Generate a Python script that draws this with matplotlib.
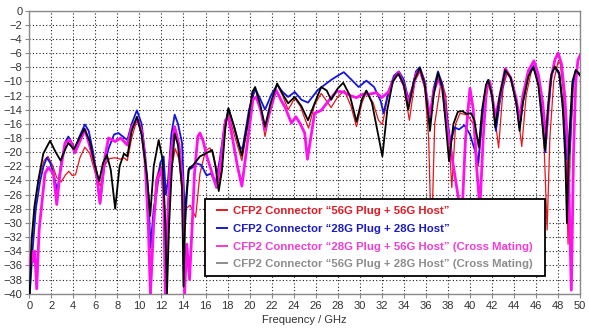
import matplotlib
matplotlib.use("Agg")
import matplotlib.pyplot as plt
from matplotlib.lines import Line2D
from matplotlib import font_manager

# ---- measured return-loss traces (frequency GHz, dB) ----
red_pts = [(0.05, -39), (0.2, -33), (0.4, -29.5), (0.65, -26), (1.0, -23), (1.35, -21.2), (1.7, -20.6),
           (2.1, -21.8), (2.5, -23.6), (2.9, -24.2), (3.3, -23.2), (3.6, -22.7), (3.9, -23.3), (4.2, -23.2),
           (4.6, -20.8), (5.05, -19.3), (5.5, -20.2), (6.0, -23.0), (6.45, -24.8), (6.9, -21.7), (7.3, -20.9),
           (7.8, -20.8), (8.3, -21.0), (8.6, -20.8), (8.9, -21.2), (9.3, -18.0), (9.8, -15.3), (10.2, -17.5),
           (10.5, -21.2), (10.83, -27.7), (11.05, -40), (11.25, -30), (11.5, -24), (11.9, -21.6), (12.2, -24),
           (12.4, -34), (12.6, -28), (12.95, -22), (13.25, -19.5), (13.6, -21), (13.87, -25.5), (14.2, -28),
           (14.6, -27.5), (15.1, -29.2), (15.5, -23), (16.0, -19.8), (16.4, -19.4), (16.75, -20.5), (17.0, -22.5),
           (17.3, -24), (17.6, -19.5), (17.9, -15.5), (18.1, -14.7), (18.6, -17.5), (19.3, -21.2), (19.9, -15.5),
           (20.5, -10.9), (21.0, -14), (21.4, -17.8), (22.0, -13), (22.5, -10.4), (23.0, -12.0), (23.5, -14.0),
           (24.1, -12.4), (24.6, -13.5), (25.0, -15.2), (25.35, -16.6), (25.9, -13.3), (26.5, -11.7), (27.0, -12.8),
           (27.4, -13.7), (28.0, -12.2), (28.6, -11.3), (29.2, -13.5), (29.7, -16.4), (30.2, -13.0), (30.6, -11.5),
           (31.2, -13.0), (31.7, -15.5), (32.05, -16.1), (32.5, -12.5), (33.0, -9.8), (33.5, -8.9), (34.0, -10.8),
           (34.5, -15.5), (35.0, -10), (35.45, -8.6), (35.9, -11), (36.25, -18), (36.5, -33), (36.8, -16),
           (37.4, -9.8), (37.8, -12), (38.1, -18), (38.35, -25), (38.7, -16), (39.1, -14.5), (39.8, -14.8),
           (40.3, -16), (40.75, -22), (41.2, -14.5), (41.7, -10.3), (42.1, -13), (42.6, -19.4), (43.0, -11),
           (43.4, -8.6), (43.8, -10), (44.3, -14), (44.7, -19.2), (45.1, -12), (45.6, -8.3), (45.9, -8.5),
           (46.4, -12), (46.75, -20), (47.0, -31), (47.25, -18), (47.6, -10), (48.0, -7.2), (48.2, -7.5),
           (48.5, -12), (48.75, -22), (48.9, -33), (49.1, -20), (49.4, -10), (49.7, -8.5), (50.0, -9.0)]

blue_pts = [(0.05, -40), (0.3, -34), (0.6, -28), (1.0, -24), (1.3, -22), (1.6, -20.8), (1.9, -21.5), (2.2, -23),
            (2.55, -25.5), (2.9, -21.5), (3.3, -18.5), (3.55, -17.8), (3.9, -18.8), (4.15, -19.6), (4.5, -18.0),
            (5.05, -16.1), (5.4, -17.0), (5.8, -20.0), (6.1, -23.0), (6.43, -27.3), (6.8, -22), (7.2, -19.5),
            (7.7, -17.5), (8.1, -17.3), (8.5, -17.8), (8.9, -18.3), (9.3, -16), (9.77, -14.1), (10.2, -16),
            (10.5, -20), (10.83, -26.3), (11.0, -33.5), (11.3, -28), (11.6, -25.3), (11.9, -21.5), (12.2, -20.6),
            (12.4, -26), (12.6, -24), (12.9, -17.5), (13.2, -14.7), (13.5, -16), (13.87, -18.7), (14.15, -30),
            (14.45, -22.5), (14.8, -22.2), (15.2, -21.6), (15.6, -21.8), (16.1, -23.3), (16.5, -23.0),
            (16.9, -24.5), (17.3, -21), (17.7, -16.5), (18.1, -13.9), (18.6, -16.5), (19.1, -19.2), (19.35, -19.6),
            (19.95, -14.0), (20.5, -11.0), (21.0, -12.6), (21.4, -14.0), (22.0, -11.8), (22.5, -10.5),
            (23.0, -11.5), (23.5, -12.2), (24.1, -11.5), (24.7, -12.6), (25.3, -13.0), (25.8, -12.0),
            (26.2, -11.2), (26.8, -10.5), (27.4, -9.8), (28.0, -9.2), (28.55, -8.7), (29.2, -9.7), (29.9, -10.8),
            (30.6, -9.9), (31.3, -10.8), (31.9, -12.8), (32.15, -14.5), (32.6, -11.5), (33.1, -9.2), (33.55, -8.6),
            (34.0, -9.8), (34.4, -12.5), (34.75, -11), (35.1, -8.6), (35.45, -8.0), (35.9, -10), (36.35, -16),
            (36.7, -11), (37.1, -8.6), (37.5, -10.5), (38.0, -16), (38.25, -18.7), (38.6, -16.5), (39.0, -16.8),
            (39.5, -16.2), (40.0, -17.5), (40.4, -19.5), (40.75, -21.5), (41.1, -15), (41.45, -11), (41.7, -9.8),
            (42.0, -11.5), (42.35, -17), (42.7, -13), (43.25, -8.4), (43.7, -9.5), (44.2, -13), (44.5, -16.5),
            (44.8, -13), (45.3, -9), (45.75, -7.8), (46.2, -10), (46.6, -15), (46.85, -20), (47.1, -14),
            (47.4, -9), (47.7, -8.0), (48.1, -9), (48.5, -15), (48.8, -21), (49.05, -20), (49.3, -11),
            (49.6, -8.5), (50.0, -9.0)]

magenta_pts = [(0.05, -36), (0.22, -34), (0.37, -35.5), (0.5, -34), (0.68, -39.3), (0.9, -31), (1.13, -27.5),
               (1.43, -23), (1.73, -22.2), (2.19, -23), (2.5, -27.4), (2.8, -23), (3.25, -18.7), (3.7, -18.3),
               (4.15, -20.1), (4.45, -19), (5.06, -16.8), (5.67, -20.1), (6.1, -23), (6.42, -27.2), (6.88, -20.6),
               (7.2, -18), (7.8, -18.5), (8.3, -18), (8.9, -19), (9.3, -16.5), (9.8, -15.3), (10.2, -17),
               (10.5, -21), (10.8, -30), (11.0, -40), (11.3, -30), (11.6, -24), (12.0, -22.5), (12.2, -26),
               (12.35, -40), (12.55, -30), (12.8, -21), (13.2, -16.4), (13.6, -19), (13.9, -24), (14.1, -40),
               (14.3, -33), (14.55, -38), (14.8, -30), (15.0, -23), (15.3, -17.8), (15.5, -17.3), (15.8, -18.5),
               (16.1, -20.5), (16.5, -22.5), (17.0, -25), (17.4, -21), (17.8, -15.5), (18.1, -15.2), (18.5, -18.5),
               (18.9, -22), (19.3, -24.8), (19.9, -17.5), (20.3, -12.6), (20.6, -12.2), (21.0, -14), (21.4, -16.8),
               (21.8, -14.5), (22.4, -11.2), (22.9, -12.8), (23.2, -13.6), (23.8, -15.9), (24.2, -15.0),
               (24.6, -16.0), (25.0, -17.3), (25.25, -21.0), (25.5, -18.5), (25.9, -14.5), (26.5, -14.1),
               (26.9, -13.3), (27.3, -12.5), (27.9, -11.4), (28.5, -11.5), (29.1, -12), (29.7, -12.3), (30.3, -11.8),
               (30.9, -11.8), (31.5, -11.6), (32.0, -12.3), (32.6, -11.5), (33.1, -9.7), (33.5, -8.7), (34.0, -10.5),
               (34.4, -13), (34.8, -11), (35.1, -9), (35.45, -8.3), (35.9, -10.5), (36.35, -15), (36.7, -11.5),
               (37.1, -9.7), (37.5, -11), (37.9, -16), (38.3, -20), (38.6, -23), (39.0, -27), (39.3, -28),
               (39.6, -18), (40.0, -11), (40.3, -14), (40.6, -22), (40.9, -28), (41.2, -18), (41.5, -11),
               (41.8, -10), (42.3, -15), (42.6, -13), (43.2, -8.2), (43.7, -9.5), (44.2, -12.5), (44.5, -15.5),
               (44.8, -12), (45.3, -8.5), (45.8, -7.1), (46.2, -9), (46.6, -13), (46.9, -18), (47.3, -10),
               (47.7, -7), (48.0, -6.0), (48.3, -7.5), (48.6, -12), (48.9, -20), (49.2, -39.5), (49.4, -20),
               (49.6, -10), (49.8, -7), (50.0, -6.3)]

black_pts = [(0.05, -40), (0.22, -32.4), (0.47, -27.7), (0.83, -23.9), (1.28, -20.2), (1.89, -18.4), (2.4, -20),
             (2.85, -21.2), (3.3, -19.5), (3.55, -18.7), (4.05, -19.6), (4.5, -18.2), (5.0, -16.7), (5.5, -18.5),
             (5.9, -21.5), (6.35, -24.1), (6.7, -21.5), (7.05, -20.4), (7.4, -22.5), (7.8, -28), (8.2, -22),
             (8.6, -20.2), (8.9, -20.6), (9.3, -17), (9.77, -15.0), (10.2, -17.5), (10.7, -23.5), (10.98, -29),
             (11.3, -22), (11.75, -18.3), (12.1, -21), (12.35, -30), (12.5, -40), (12.7, -30), (12.96, -22),
             (13.2, -17.4), (13.5, -19), (13.87, -25), (14.0, -39), (14.2, -27), (14.5, -22.3), (14.9, -21.8),
             (15.5, -20.6), (16.0, -20.2), (16.6, -19.7), (16.9, -22), (17.2, -25.5), (17.5, -22.5), (17.8, -16.5),
             (18.07, -13.8), (18.6, -16.4), (19.0, -18.8), (19.3, -20.5), (19.8, -16.2), (20.25, -11.5),
             (20.5, -10.8), (21.0, -13.5), (21.4, -16.4), (21.9, -13.1), (22.5, -10.3), (23.0, -11.8),
             (23.5, -13.1), (24.1, -12.2), (24.7, -13.5), (25.3, -15.5), (25.9, -13.1), (26.5, -10.8),
             (27.0, -11.3), (27.4, -12.6), (28.0, -11), (28.5, -10.2), (29.1, -12), (29.7, -15.7), (30.2, -12.5),
             (30.6, -11.3), (31.1, -13), (31.6, -17), (32.05, -20.6), (32.5, -14), (33.0, -10), (33.5, -8.9),
             (34.0, -10.5), (34.4, -14), (34.9, -10), (35.45, -8.1), (35.9, -10.5), (36.37, -17), (36.7, -12),
             (37.1, -8.8), (37.5, -11), (37.8, -16), (38.1, -21.3), (38.5, -16), (38.9, -14.3), (39.3, -14.2),
             (39.7, -14.6), (40.1, -14.5), (40.4, -15.5), (40.8, -19.3), (41.1, -14), (41.45, -10.5),
             (41.65, -9.8), (42.0, -12), (42.3, -16.5), (42.7, -12), (43.2, -8.4), (43.7, -9.5), (44.2, -13),
             (44.5, -17), (44.8, -13), (45.3, -9.3), (45.75, -8.0), (46.2, -10.5), (46.5, -15), (46.8, -19.7),
             (47.1, -13.5), (47.4, -9), (47.7, -7.9), (48.1, -8.8), (48.4, -13), (48.65, -21), (48.8, -30),
             (49.0, -18), (49.3, -10), (49.6, -8.4), (50.0, -9.2)]

series_labels = ["CFP2 Connector \u201c56G Plug + 56G Host\u201d",
                 "CFP2 Connector \u201c28G Plug + 28G Host\u201d",
                 "CFP2 Connector \u201c28G Plug + 56G Host\u201d (Cross Mating)",
                 "CFP2 Connector \u201c56G Plug + 28G Host\u201d (Cross Mating)"]
x_ticks = list(range(0, 51, 2))
y_ticks = list(range(0, -41, -2))
x_title = "Frequency / GHz"

# ---- fonts ----
available = {f.name for f in font_manager.fontManager.ttflist}
narrow = "Liberation Sans Narrow" if "Liberation Sans Narrow" in available else "Liberation Sans"
plt.rcParams["font.family"] = [narrow, "DejaVu Sans"]

fig = plt.figure(figsize=(5.89, 3.30), dpi=100)
ax = fig.add_axes([0.0496, 0.110, 0.9354, 0.858])

styles = [
    (red_pts, "#e8141c", 0.9, 2),
    (blue_pts, "#1414e0", 1.3, 3),
    (magenta_pts, "#ff10ee", 2.0, 4),
    (black_pts, "#000000", 1.3, 5),
]
for pts, color, lw, z in styles:
    fx = [p[0] for p in pts]
    fy = [p[1] for p in pts]
    ax.plot(fx, fy, color=color, lw=lw, zorder=z, solid_joinstyle="round")

ax.set_xlim(0, 50)
ax.set_ylim(-40, 0)
ax.set_xticks(x_ticks)
ax.set_yticks(y_ticks)
ax.grid(True, color="#222222", linestyle=(0, (1, 2)), linewidth=0.8)
ax.set_axisbelow(True)

for sp in ax.spines.values():
    sp.set_color("#8a8a8a")
    sp.set_linewidth(1.0)
ax.tick_params(axis="both", direction="out", length=3, width=0.8, color="#8a8a8a",
               labelsize=8, labelcolor="#333333", pad=2)
ax.set_xlabel(x_title, fontsize=8, color="#333333", labelpad=3)

# ---- legend ----
legend_colors = ["#e31a22", "#1a1acc", "#f23cd6", "#8c8c8c"]
handles = [Line2D([], [], color=c, lw=0, marker="_", markersize=8, markeredgewidth=1.4)
           for c in legend_colors]
leg = ax.legend(handles, series_labels, loc="lower left",
                bbox_to_anchor=(0.319, 0.062, 0.617, 0.315), mode="expand",
                borderaxespad=0, fancybox=False, framealpha=1, edgecolor="black",
                prop={"family": [narrow, "DejaVu Sans"], "weight": "bold", "size": 8.2},
                handlelength=1.8, handletextpad=0.05, borderpad=0.6, labelspacing=0.68)
leg.get_frame().set_linewidth(1.3)
leg.set_zorder(10)
for t, c in zip(leg.get_texts(), legend_colors):
    t.set_color(c)

fig.savefig("out.png", dpi=100, facecolor="white")
